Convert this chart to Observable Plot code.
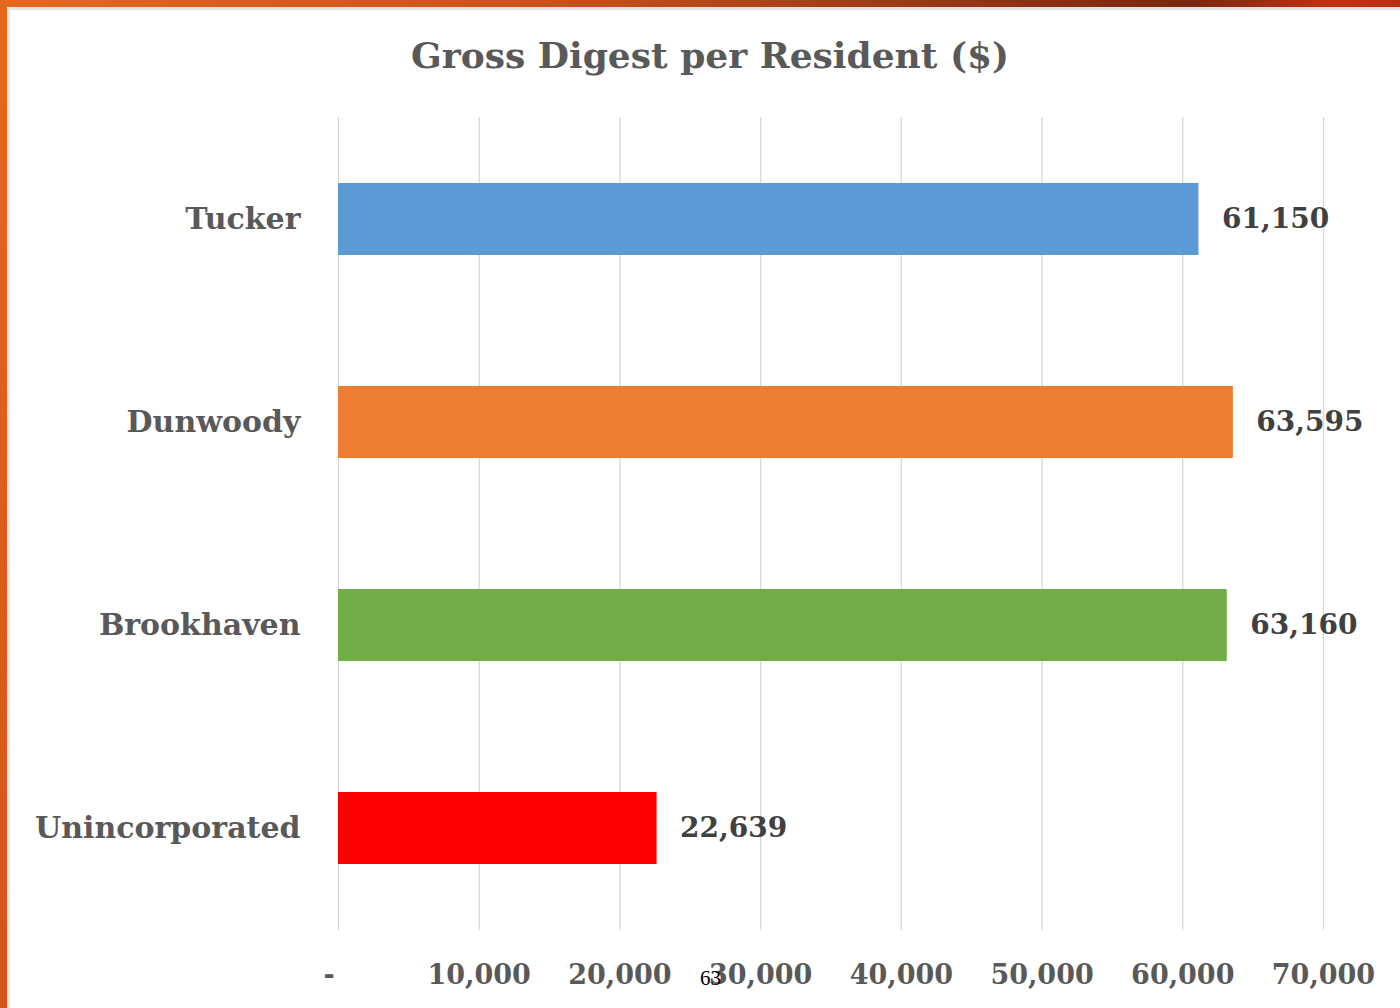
<!DOCTYPE html>
<html>
<head>
<meta charset="utf-8">
<script src="https://cdn.jsdelivr.net/npm/d3@7"></script>
<script src="https://cdn.jsdelivr.net/npm/@observablehq/plot@0.6"></script>
<style>
  html, body { margin: 0; padding: 0; background: #fff; }
  #page { position: relative; width: 1400px; height: 1008px; overflow: hidden; background: #fff; }
  #topbar { position: absolute; left: 0; top: 0; width: 1400px; height: 7px;
    background: linear-gradient(90deg, #e2691d 0%, #c9521a 40%, #8a2e12 75%, #7a2610 85%, #c0320f 95%, #b83010 100%); }
  #leftbar { position: absolute; left: 0; top: 0; width: 7px; height: 1008px;
    background: linear-gradient(180deg, #e2691d 0%, #d4541a 100%); }
  #topline { position: absolute; left: 7px; top: 7px; width: 1393px; height: 3px; background: #e4e4e4; }
  #leftline { position: absolute; left: 7px; top: 7px; width: 3px; height: 1001px; background: #e4e4e4; }
  #title { position: absolute; left: 0; width: 1420px; top: 34px; text-align: center;
    font-family: "DejaVu Serif", serif; font-weight: bold; font-size: 36px; color: #595959; }
  #chart { position: absolute; left: 0; top: 0; }
  #pagenum { position: absolute; left: 700px; top: 966px; font-family: "Liberation Serif", serif;
    font-size: 21px; color: #000; }
</style>
</head>
<body>
<div id="page">
  <div id="topbar"></div>
  <div id="leftbar"></div>
  <div id="topline"></div>
  <div id="leftline"></div>
  <div id="chart"></div>
  <div id="title">Gross Digest per Resident ($)</div>
  <div id="pagenum">63</div>
</div>
<script>
const categories = ["Tucker", "Dunwoody", "Brookhaven", "Unincorporated"];
const values = [61150, 63595, 63160, 22639];
const barColors = ["#5b9bd5", "#ed7d31", "#70ad47", "#ff0000"];
const xTicks = [0, 10000, 20000, 30000, 40000, 50000, 60000, 70000];

const data = categories.map((c, i) => ({category: c, value: values[i], color: barColors[i]}));
const fmt = d3.format(",");

const chart = Plot.plot({
  width: 1400,
  height: 1008,
  marginLeft: 338,
  marginRight: 77,
  marginTop: 117,
  marginBottom: 78,
  style: {fontFamily: "DejaVu Serif, serif", background: "transparent"},
  x: {domain: [0, 70000], ticks: xTicks, label: null},
  y: {domain: categories, paddingInner: 0.646, paddingOuter: 0.323, label: null},
  marks: [
    Plot.gridX(xTicks, {stroke: "#d9d9d9", strokeOpacity: 1, strokeWidth: 1.3}),
    Plot.barX(data, {x: "value", y: "category", fill: "color"}),
    Plot.text(data, {x: "value", y: "category", text: d => fmt(d.value), textAnchor: "start", dx: 23,
      fontSize: 28, fontWeight: "bold", fill: "#404040"}),
    Plot.axisX({ticks: xTicks, tickSize: 0, tickPadding: 34, fontSize: 27, fontWeight: "bold",
      tickFormat: d => d === 0 ? "-\u00a0\u00a0" : fmt(d), fill: "#595959", label: null}),
    Plot.axisY({tickSize: 0, tickPadding: 38, fontSize: 30, fontWeight: "bold", fill: "#595959", label: null})
  ]
});
document.getElementById("chart").appendChild(chart);
</script>
</body>
</html>
